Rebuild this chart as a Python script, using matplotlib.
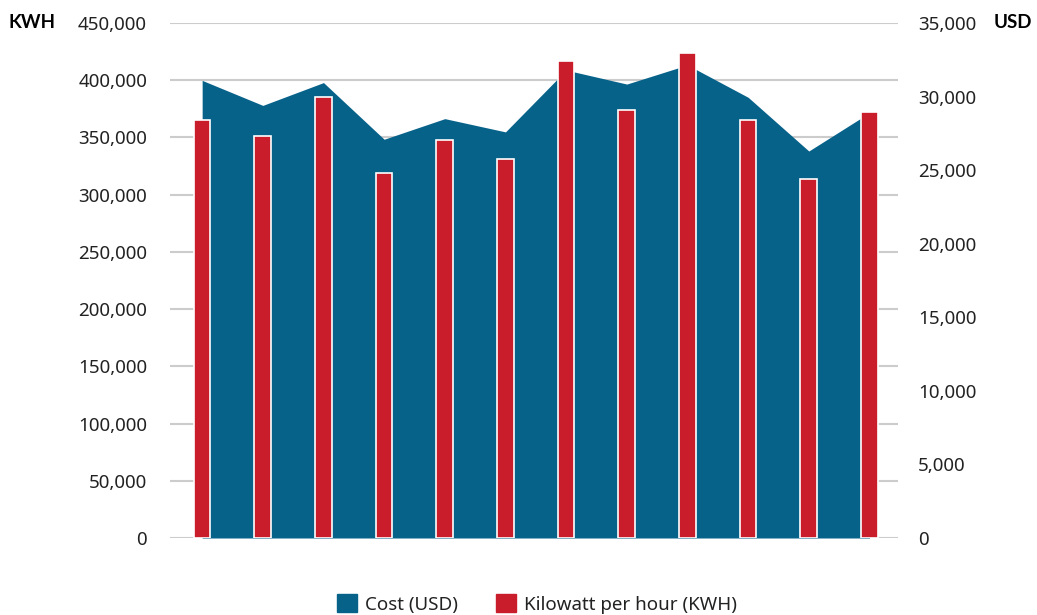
import matplotlib.pyplot as plt
from matplotlib.patches import Patch
from matplotlib.lines import Line2D
import numpy as np

months = ['Jan', 'Feb', 'Mar', 'Apr', 'May', 'Jun',
          'Jul', 'Aug', 'Sep', 'Oct', 'Nov', 'Dec']
kwh = [365500, 351500, 385000, 319000, 348000, 331500,
       417000, 374000, 424000, 365000, 314000, 372000]
usd = [31100, 29400, 30950, 27100, 28500, 27600,
       31800, 30850, 32150, 29950, 26300, 28900]

kwh_ticks = np.arange(0, 450001, 50000)
usd_ticks = np.arange(0, 35001, 5000)

blue = '#07628a'
red = '#c91d2b'
txt = '#222222'

plt.rcParams['font.family'] = ['Noto Sans', 'DejaVu Sans']

fig = plt.figure(figsize=(10.37, 6.15), dpi=100)
ax = fig.add_axes([170/1037, 77/615, 728/1037, 515/615])
ax2 = ax.twinx()

x = np.arange(len(months))

ax.set_ylim(0, 450000)
ax.set_xlim(-0.53, 11.47)

# gridlines of the KWH axis, drawn in ax2 so they sit under the area
for t in kwh_ticks:
    ln = Line2D([0, 1], [t, t], transform=ax.get_yaxis_transform(),
                color='#cccccc', lw=1.5, zorder=0)
    ax2.add_artist(ln)

# area on the USD axis
ax2.fill_between(x, usd, 0, color=blue, lw=0, zorder=1)
ax2.set_ylim(0, 35000)
ax2.set_yticks(usd_ticks)
ax2.set_yticklabels([f'{v:,}' for v in usd_ticks])

# bars on KWH axis, ax on top of ax2
ax.set_zorder(ax2.get_zorder() + 1)
ax.patch.set_visible(False)
ax.bar(x, kwh, width=0.275, color=red, edgecolor='white', linewidth=1.2, zorder=2)
ax.set_yticks(kwh_ticks)
ax.set_yticklabels([f'{v:,}' for v in kwh_ticks])
ax.set_xticks([])

for a in (ax, ax2):
    for s in a.spines.values():
        s.set_visible(False)
    a.tick_params(length=0, labelsize=13.5, colors=txt)
ax.tick_params(axis='y', pad=16.5)
ax2.tick_params(axis='y', pad=14.4)

fig.text(8/1037, 1 - 22/615, 'KWH', fontsize=13.5, fontweight='bold',
         family='Lato', color='black', ha='left', va='center')
fig.text(1032/1037, 1 - 22/615, 'USD', fontsize=13.5, fontweight='bold',
         family='Lato', color='black', ha='right', va='center')

handles = [Patch(color=blue, label='Cost (USD)'),
           Patch(color=red, label='Kilowatt per hour (KWH)')]
fig.legend(handles=handles, loc='center', bbox_to_anchor=(0.518, 1 - 604/615),
           ncol=2, frameon=False, fontsize=13.5, handlelength=1.05,
           handleheight=1.05, handletextpad=0.45, columnspacing=2.0,
           labelcolor=txt)

fig.savefig('out.png', dpi=100)
